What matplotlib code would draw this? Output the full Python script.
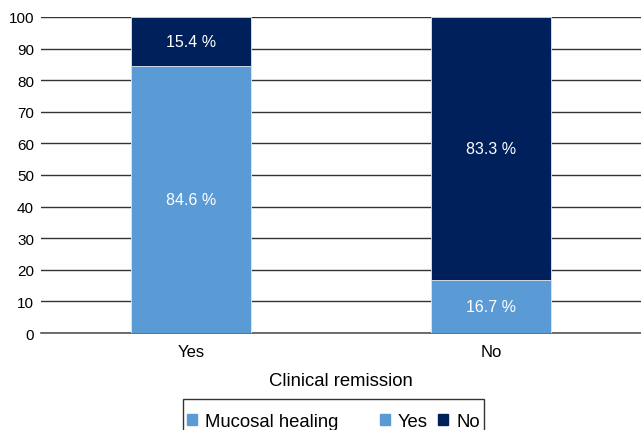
import matplotlib.pyplot as plt
from matplotlib.patches import Patch

plt.rcParams['font.family'] = ['Liberation Sans', 'DejaVu Sans']

# data
categories = ['Yes', 'No']
mh_yes = [84.6, 16.7]
mh_no = [15.4, 83.3]
light = '#5B9BD5'
dark = '#00205C'

fig = plt.figure(figsize=(6.41, 4.31), dpi=100)
ax = fig.add_axes([41 / 641, 1 - 334 / 431, 600 / 641, 316 / 431])

x = range(len(categories))
b1 = ax.bar(x, mh_yes, width=0.4, color=light, edgecolor='#dde6f0', linewidth=0.6, zorder=3)
b2 = ax.bar(x, mh_no, width=0.4, bottom=mh_yes, color=dark, edgecolor='#dde6f0', linewidth=0.6, zorder=3)

for bars, vals, bottoms in [(b1, mh_yes, [0, 0]), (b2, mh_no, mh_yes)]:
    for r, v, b in zip(bars, vals, bottoms):
        ax.text(r.get_x() + r.get_width() / 2, b + v / 2, f'{v} %',
                ha='center', va='center', color='white', fontsize=11.5, zorder=4)

ax.set_xlim(-0.5, 1.5)
ax.set_ylim(0, 100)
ax.set_yticks(range(0, 101, 10))
ax.set_xticks(list(x))
ax.set_xticklabels(categories)
ax.tick_params(axis='y', length=0, labelsize=11, pad=5)
ax.tick_params(axis='x', length=0, labelsize=12, pad=8)
ax.grid(axis='y', color='#333333', linewidth=1, zorder=0)
for s in ['top', 'right', 'left']:
    ax.spines[s].set_visible(False)
ax.spines['bottom'].set_color('#555555')
ax.spines['bottom'].set_linewidth(1.2)
ax.set_xlabel('Clinical remission', fontsize=13.3, labelpad=9)

handles = [Patch(color=light), Patch(color=light), Patch(color=dark)]
labels = ['Mucosal healing      ', 'Yes', 'No']
# tiny blank title pushes the entries down inside the frame
leg = fig.legend(handles, labels, ncol=3, loc='upper center',
                 bbox_to_anchor=(333.5 / 641, 1 - 400 / 431), fontsize=13.3,
                 title=' ', title_fontsize=0.5,
                 frameon=True, fancybox=False, edgecolor='black',
                 handlelength=0.55, handleheight=0.55, handletextpad=0.45,
                 columnspacing=0.55, borderpad=0.22, borderaxespad=0)
leg.get_frame().set_linewidth(1)

fig.savefig('out.png', dpi=100)
